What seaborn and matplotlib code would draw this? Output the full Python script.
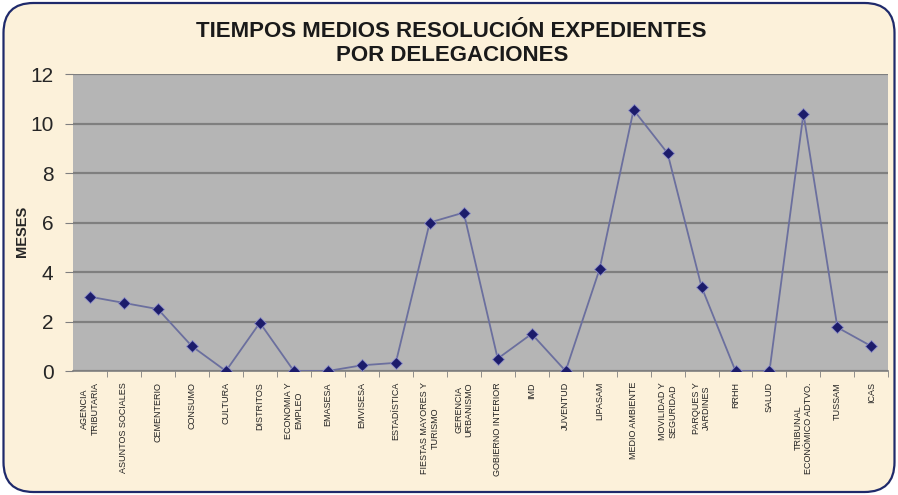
import matplotlib
matplotlib.use("Agg")
import matplotlib.pyplot as plt
from matplotlib.patches import FancyBboxPatch
import seaborn as sns
import pandas as pd

delegaciones = ["AGENCIA\nTRIBUTARIA", "ASUNTOS SOCIALES", "CEMENTERIO", "CONSUMO", "CULTURA",
                "DISTRITOS", "ECONOMIA Y\nEMPLEO", "EMASESA", "EMVISESA", "ESTADÍSTICA",
                "FIESTAS MAYORES Y\nTURISMO", "GERENCIA\nURBANISMO", "GOBIERNO INTERIOR", "IMD",
                "JUVENTUD", "LIPASAM", "MEDIO AMBIENTE", "MOVILIDAD Y\nSEGURIDAD",
                "PARQUES Y\nJARDINES", "RRHH", "SALUD", "TRIBUNAL\nECONÓMICO ADTVO.", "TUSSAM", "ICAS"]
meses = [3.0, 2.75, 2.5, 1.0, 0.0, 1.95, 0.0, 0.0, 0.23, 0.33, 6.0, 6.4, 0.5, 1.5, 0.0,
         4.12, 10.55, 8.8, 3.4, 0.0, 0.0, 10.4, 1.76, 1.0]
yticks = [0, 2, 4, 6, 8, 10, 12]

sns.set_style("white")
plt.rcParams['font.family'] = ['Liberation Sans', 'DejaVu Sans']

fig = plt.figure(figsize=(8.98, 4.95), dpi=100, facecolor="white")
frame = FancyBboxPatch((0.035, 0.03), 8.91, 4.89, boxstyle="round,pad=0,rounding_size=0.3",
                       transform=fig.dpi_scale_trans, facecolor="#fcf1da", edgecolor="#1f2a6b",
                       linewidth=1.6, zorder=-10)
fig.patches.append(frame)

ax = fig.add_axes([0.0813, 0.2505, 0.908, 0.6])
ax.set_facecolor("#b5b5b5")

df = pd.DataFrame({"delegacion": delegaciones, "meses": meses})
sns.pointplot(data=df, x="delegacion", y="meses", ax=ax, color="#6b6f9e", markers="D",
              linewidth=1.3, markersize=6.5, zorder=3)
for ln in ax.lines:
    ln.set_markerfacecolor("#1c1c6b")
    ln.set_markeredgecolor("#8a8cc8")
    ln.set_markeredgewidth(0.6)

ax.set_ylim(0, 12)
ax.set_xlim(-0.5, 23.2)
ax.set_yticks(yticks)
ax.set_yticklabels([str(v) for v in yticks], fontsize=15)
ax.yaxis.grid(True, color="#7f7f7f", linewidth=1.6)
ax.set_axisbelow(True)
ax.tick_params(axis="y", length=6, color="#7f7f7f", pad=8, left=True)
ax.tick_params(axis="x", length=0, pad=8)
ax.set_xticks(range(len(delegaciones)))
ax.set_xticklabels(delegaciones, rotation=90, fontsize=6.5, va="top", ha="center",
                   multialignment="center", color="#222222")
ax.set_xticks([i + 0.5 for i in range(len(delegaciones))], minor=True)
ax.tick_params(axis="x", which="minor", length=4, color="#7f7f7f", bottom=True)
ax.set_xlabel("")
ax.set_ylabel("MESES", fontsize=10.5, fontweight="bold")
ax.yaxis.set_label_coords(-0.054, 0.47)
for s in ["top", "right", "left"]:
    ax.spines[s].set_visible(False)
ax.spines["bottom"].set_color("#7f7f7f")
ax.spines["bottom"].set_linewidth(1.2)

fig.text(0.503, 0.912, "TIEMPOS MEDIOS RESOLUCIÓN EXPEDIENTES\nPOR DELEGACIONES",
         ha="center", va="center", fontsize=16, fontweight="bold", linespacing=1.15,
         color="#1a1a1a")

fig.savefig("out.png", dpi=100, facecolor=fig.get_facecolor())
